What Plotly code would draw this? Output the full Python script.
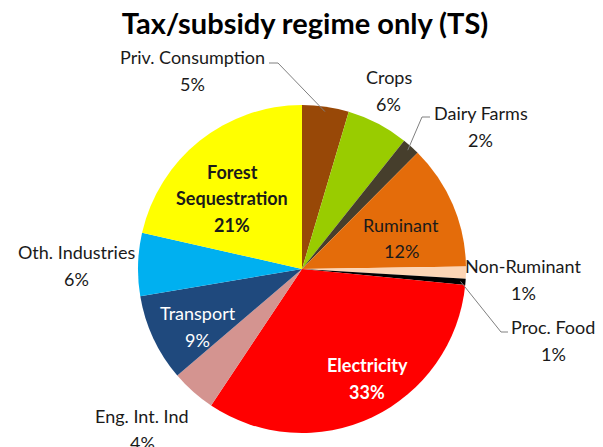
import math
import plotly.graph_objects as go

# ---- data ----
labels = ["Priv. Consumption", "Crops", "Dairy Farms", "Ruminant", "Non-Ruminant",
          "Proc. Food", "Electricity", "Eng. Int. Ind", "Transport",
          "Oth. Industries", "Forest Sequestration"]
values = [4.6, 6.1, 1.75, 12.3, 1.2, 0.6, 32.8, 4.4, 8.6, 6.2, 21.45]
colors = ["#984807", "#99CC00", "#463E2C", "#E46C0A", "#FCD5B5", "#000000",
          "#FF0000", "#D49490", "#1F497D", "#00B0F0", "#FFFF00"]

# page window 603x447; the page body has an 8px margin, so the figure is placed at (8, 8)
WIN_W, WIN_H, OFF = 603, 447, 8
FW, FH = WIN_W - OFF, WIN_H - OFF
CX, CY, R = 302, 269, 164

def px(x):
    return (x - OFF) / FW

def py(y):
    return 1 - (y - OFF) / FH

total = sum(values)
pct = [f"{round(v / total * 100)}%" for v in values]

fig = go.Figure(go.Pie(
    labels=labels, values=values, sort=False, direction="clockwise", rotation=0,
    marker=dict(colors=colors, line=dict(width=0)),
    textinfo="none", hoverinfo="skip", showlegend=False,
    domain=dict(x=[px(CX - R), px(CX + R)], y=[py(CY + R), py(CY - R)]),
))

FONT = "Lato, 'Open Sans', sans-serif"
TXT = "#1a1a1a"
FS = 18

# label layout: (index, center x, center y, color, bold)
label_pos = [
    (0, 192, 57, TXT, False),
    (1, 389, 77, TXT, False),
    (2, 481, 113, TXT, False),
    (3, 401, 225, TXT, False),
    (4, 523, 266, TXT, False),
    (5, 553, 327, TXT, False),
    (6, 367, 365, "white", True),
    (7, 142, 416, TXT, False),
    (8, 198, 313, "white", False),
    (9, 76, 252, TXT, False),
]
LS = 26.5

def add_text(x, y, t, c):
    return dict(x=px(x), y=py(y), xref="paper", yref="paper", text=t,
                xanchor="center", yanchor="middle", showarrow=False,
                font=dict(family=FONT, size=FS, color=c))

anns = []
for i, x, y, c, b in label_pos:
    name = f"<b>{labels[i]}</b>" if b else labels[i]
    p = f"<b>{pct[i]}</b>" if b else pct[i]
    anns.append(add_text(x, y, name, c))
    anns.append(add_text(x, y + LS, p, c))
# Forest Sequestration (three lines, bold)
fx, fy = 232, 172
for k, t in enumerate(["Forest", "Sequestration", pct[10]]):
    anns.append(add_text(fx, fy + k * LS, f"<b>{t}</b>", TXT))

# leader lines: from slice mid-angle to label
cum = []
s = 0
for v in values:
    cum.append((s + v / 2) / total * 360)
    s += v

def anchor(i, rf=0.97):
    a = math.radians(cum[i])
    return CX + R * rf * math.sin(a), CY - R * rf * math.cos(a)

leaders = [(0, (269, 63), (278, 63)), (2, (430, 117), (422, 117)), (5, (508, 332), (501, 332))]
shapes = []
for i, p0, p1 in leaders:
    ax_, ay_ = anchor(i)
    path = f"M {px(p0[0])} {py(p0[1])} L {px(p1[0])} {py(p1[1])} L {px(ax_)} {py(ay_)}"
    shapes.append(dict(type="path", path=path, xref="paper", yref="paper",
                       line=dict(color="#808080", width=1)))

fig.update_layout(
    width=FW, height=FH, margin=dict(l=0, r=0, t=0, b=0),
    paper_bgcolor="white", plot_bgcolor="white",
    title=dict(text="<b>Tax/subsidy regime only (TS)</b>", x=px(305), xanchor="center",
               y=py(24), yanchor="middle", yref="paper", xref="paper",
               font=dict(family=FONT, size=29, color="#000000")),
    annotations=anns, shapes=shapes,
)

fig.write_html("out.html")
